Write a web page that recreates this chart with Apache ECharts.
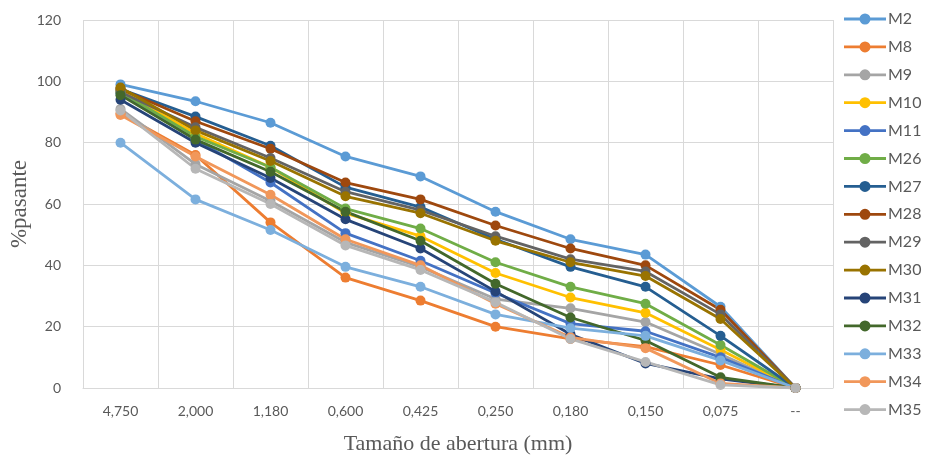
<!DOCTYPE html>
<html><head><meta charset="utf-8">
<script src="https://cdn.jsdelivr.net/npm/echarts@6/dist/echarts.min.js"></script>
<style>html,body{margin:0;padding:0;background:#fff}#c{width:925px;height:460px}</style>
</head><body><div id="c"></div>
<script>
const categories = ['4,750','2,000','1,180','0,600','0,425','0,250','0,180','0,150','0,075','--'];
const seriesNames = ['M2','M8','M9','M10','M11','M26','M27','M28','M29','M30','M31','M32','M33','M34','M35'];
const M2  = [99, 93.5, 86.5, 75.5, 69, 57.5, 48.5, 43.5, 26.5, 0];
const M8  = [89.5, 76, 54, 36, 28.5, 20, 16, 13.5, 7.5, 0];
const M9  = [91, 73, 61, 47.5, 39.5, 29, 26, 21.5, 11, 0];
const M10 = [97, 83, 72, 57, 49.5, 37.5, 29.5, 24.5, 12.5, 0];
const M11 = [96, 81, 67, 50.5, 41.5, 31, 21, 18.5, 10, 0];
const M26 = [96.5, 82, 72, 58.5, 52, 41, 33, 27.5, 14, 0];
const M27 = [97.5, 88.5, 79, 65.5, 59, 48.5, 39.5, 33, 17, 0];
const M28 = [97.5, 87, 78, 67, 61.5, 53, 45.5, 40, 25.5, 0];
const M29 = [96.5, 85, 75, 64, 58, 49.5, 42, 38, 24, 0];
const M30 = [98, 84, 74, 62.5, 57, 48, 41, 36.5, 22.5, 0];
const M31 = [94, 80, 68.5, 55, 45.5, 31.5, 17.5, 8, 3, 0];
const M32 = [95.5, 81, 70.5, 57.5, 48, 34, 23, 15.5, 3.5, 0];
const M33 = [80, 61.5, 51.5, 39.5, 33, 24, 19.5, 17, 9, 0];
const M34 = [89, 75.5, 63, 48.5, 40, 27.5, 16.5, 13, 1.5, 0];
const M35 = [90.5, 71.5, 60, 46.5, 38.5, 28, 16, 8.5, 1, 0];
const yTicks = [0, 20, 40, 60, 80, 100, 120];

const values = [M2,M8,M9,M10,M11,M26,M27,M28,M29,M30,M31,M32,M33,M34,M35];
const colors = ['#5B9BD5','#ED7D31','#A5A5A5','#FFC000','#4472C4','#70AD47','#255E91','#9E480E','#636363','#997300','#264478','#43682B','#7CAFDD','#F1975A','#B7B7B7'];

const legendIcon = 'path://M0,8.6 L42,8.6 L42,11.4 L0,11.4 Z M15.5,10 A5.5,5.5 0 1,1 26.5,10 A5.5,5.5 0 1,1 15.5,10 Z';

const chart = echarts.init(document.getElementById('c'), null, {renderer:'canvas'});
chart.setOption({
  animation:false,
  color: colors,
  grid:{left:83, right:92, top:20, bottom:72, containLabel:false, outerBoundsMode:'none'},
  legend:{
    orient:'vertical', left:839, top:6, itemGap:11.9, itemWidth:42, itemHeight:11,
    icon: legendIcon,
    textStyle:{fontFamily:'Lato', fontSize:16, color:'#595959', padding:[0,0,0,-3]},
    data: seriesNames
  },
  xAxis:{
    type:'category', data: categories, boundaryGap:true,
    name:'Tamaño de abertura (mm)', nameLocation:'middle', nameGap:45,
    nameMoveOverlap:false,
    nameTextStyle:{fontFamily:'Liberation Serif', fontSize:22, color:'#595959'},
    axisLine:{show:true, lineStyle:{color:'#d9d9d9', width:1}},
    axisTick:{show:false},
    axisLabel:{fontFamily:'Lato', fontSize:14, color:'#595959', margin:16, interval:0},
    splitLine:{show:true, lineStyle:{color:'#d9d9d9', width:1}}
  },
  yAxis:{
    type:'value', min:0, max:120, interval:20,
    name:'%pasante', nameLocation:'middle', nameGap:52, nameRotate:90,
    nameMoveOverlap:false,
    nameTextStyle:{fontFamily:'Liberation Serif', fontSize:23, color:'#595959'},
    axisLine:{show:false}, axisTick:{show:false},
    axisLabel:{fontFamily:'Lato', fontSize:14, color:'#595959', margin:22,
      formatter: v => yTicks.includes(v) ? String(v) : ''},
    splitLine:{show:true, lineStyle:{color:'#d9d9d9', width:1}}
  },
  series: seriesNames.map((n,i)=>({
    name:n, type:'line', data: values[i],
    symbol:'circle', symbolSize:10, showSymbol:true,
    lineStyle:{width:2.8, color:colors[i]},
    itemStyle:{color:colors[i]},
    emphasis:{disabled:true}
  }))
});
</script></body></html>
